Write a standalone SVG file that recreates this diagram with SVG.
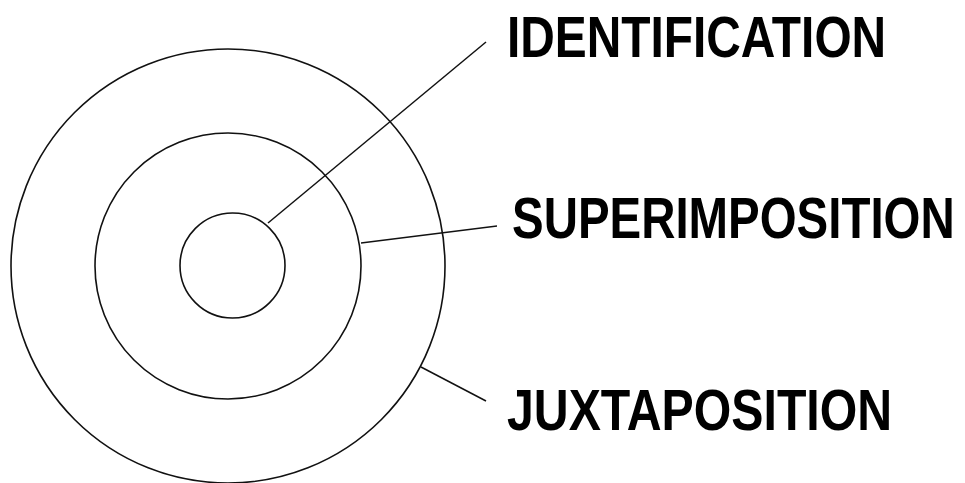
<svg xmlns="http://www.w3.org/2000/svg" width="965" height="483" viewBox="0 0 965 483">
<style>
.ring{fill:none;stroke:#111;stroke-width:1.6}
.conn{stroke:#111;stroke-width:1.5;fill:none}
.lbl{font-family:"Liberation Sans",Arial,sans-serif;font-weight:bold;font-size:58px;fill:#000}
</style>
<rect width="965" height="483" fill="#fff"/>
<g id="juxtaposition-ring"><circle class="ring" cx="228" cy="266" r="217"/></g>
<g id="superimposition-ring"><circle class="ring" cx="228" cy="266" r="133"/></g>
<g id="identification-ring"><circle class="ring" cx="232.5" cy="265.5" r="52.5"/></g>
<g id="connectors">
<line class="conn" x1="268" y1="223" x2="486" y2="42"/>
<line class="conn" x1="361" y1="243" x2="497" y2="226"/>
<line class="conn" x1="421" y1="367" x2="486" y2="401"/>
</g>
<g id="label-identification"><text class="lbl" transform="translate(507 57) scale(0.825 1)">IDENTIFICATION</text></g>
<g id="label-superimposition"><text class="lbl" transform="translate(512 238) scale(0.818 1)">SUPERIMPOSITION</text></g>
<g id="label-juxtaposition"><text class="lbl" transform="translate(507 430) scale(0.832 1)">JUXTAPOSITION</text></g>
</svg>
